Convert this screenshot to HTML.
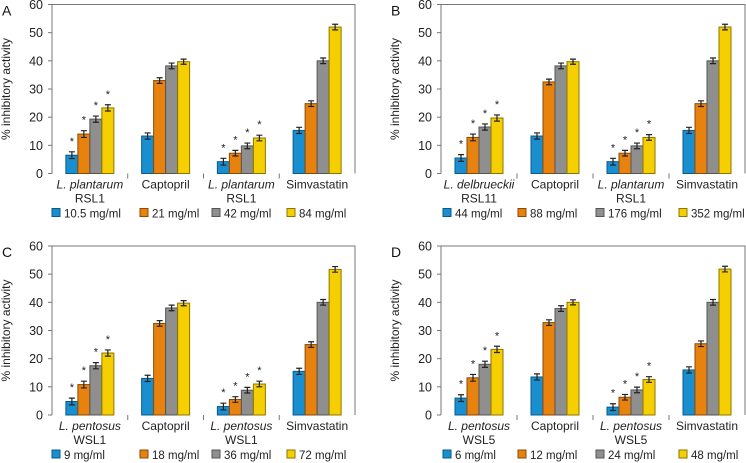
<!DOCTYPE html>
<html><head><meta charset="utf-8"><style>
html,body{margin:0;padding:0;background:#fff;}
svg{display:block;font-family:"Liberation Sans",sans-serif;}
</style></head><body>
<svg id="c" width="746" height="463"></svg>
<script>
const categoriesA = [["L. plantarum","RSL1",true],["Captopril","",false],["L. plantarum","RSL1",true],["Simvastatin","",false]];
const categoriesB = [["L. delbrueckii","RSL11",true],["Captopril","",false],["L. plantarum","RSL1",true],["Simvastatin","",false]];
const categoriesC = [["L. pentosus","WSL1",true],["Captopril","",false],["L. pentosus","WSL1",true],["Simvastatin","",false]];
const categoriesD = [["L. pentosus","WSL5",true],["Captopril","",false],["L. pentosus","WSL5",true],["Simvastatin","",false]];
const legendA = ["10.5 mg/ml","21 mg/ml","42 mg/ml","84 mg/ml"];
const legendB = ["44 mg/ml","88 mg/ml","176 mg/ml","352 mg/ml"];
const legendC = ["9 mg/ml","18 mg/ml","36 mg/ml","72 mg/ml"];
const legendD = ["6 mg/ml","12 mg/ml","24 mg/ml","48 mg/ml"];
const valuesA = [[6.5,14,19.3,23.3],[13.3,33,38.2,39.7],[4.2,7.2,9.8,12.6],[15.3,24.8,40,52]];
const valuesB = [[5.5,12.8,16.5,19.7],[13.3,32.5,38.2,39.7],[4.2,7.2,9.8,12.8],[15.3,24.8,40,52]];
const valuesC = [[4.8,10.8,17.5,22],[13,32.5,38,39.7],[3,5.5,8.8,11],[15.5,25,40,51.7]];
const valuesD = [[6,13.2,18,23.3],[13.5,32.8,37.8,40],[2.8,6.3,8.9,12.6],[16,25.3,40,51.8]];
const errA = [[1.2,1.2,1.1,1.1],[1.1,1.0,1.0,0.9],[1.2,1.0,1.0,1.0],[1.1,1.0,1.0,1.0]];
const yTicks = [0,10,20,30,40,50,60];

const colors=["#1a8fd0","#e8820e","#8f8f8f","#f5cf00"];
const strokes=["#0b5a88","#8a4a05","#555","#8c7500"];
const NS="http://www.w3.org/2000/svg";
const svg=document.getElementById('c');
function mk(t,a,p){const e=document.createElementNS(NS,t);for(const k in a)e.setAttribute(k,a[k]);(p||svg).appendChild(e);return e;}

const panels=[
 {id:"a",letter:"A",L:52,R:355,T:4.5,B:173.5,cats:categoriesA,leg:legendA,vals:valuesA,lx:[52,140,212,287],lbx:10},
 {id:"b",letter:"B",L:441,R:745,T:4.5,B:173.5,cats:categoriesB,leg:legendB,vals:valuesB,lx:[443,518,596,679],lbx:399},
 {id:"c",letter:"C",L:52,R:355,T:246,B:415,cats:categoriesC,leg:legendC,vals:valuesC,lx:[52,140,212,287],lbx:10},
 {id:"d",letter:"D",L:441,R:745,T:246,B:415,cats:categoriesD,leg:legendD,vals:valuesD,lx:[443,518,596,679],lbx:399}
];
panels.forEach(p=>{
 const g=mk('g',{});
 
 
 const y=v=>p.B-(v/60)*(p.B-p.T);
 const gw=(p.R-p.L)/4;
 const lt=mk('text',{x:p.L-50,y:p.T+11,'font-size':14,fill:'#111'},g);lt.textContent=p.letter;
 
 const fr=mk('path',{d:`M${p.L},${p.B}V${p.T}H${p.R}V${p.B}`,fill:'none',stroke:'#777','stroke-width':1},g);
 
 yTicks.forEach(t=>{
  mk('line',{x1:p.L-4,x2:p.L,y1:y(t),y2:y(t),stroke:'#777'},g);
  const tx=mk('text',{x:p.L-9,y:y(t)+4.5,'font-size':12.5,'text-anchor':'end',fill:'#222'},g);tx.textContent=t;
  
 });
 const yl=mk('text',{x:p.lbx,y:(p.T+p.B)/2,'font-size':12,'text-anchor':'middle',fill:'#222',transform:`rotate(-90 ${p.lbx} ${(p.T+p.B)/2})`},g);
 yl.textContent='% inhibitory activity';
 
 const bw=12;
 p.vals.forEach((grp,gi)=>{
  const cx=p.L+gw*(gi+0.5);
  if(gi>0) mk('line',{x1:p.L+gw*gi,x2:p.L+gw*gi,y1:p.B,y2:p.B+5,stroke:'#777'},g);
  grp.forEach((v,si)=>{
   const x=cx-2*bw+si*bw;
   const r=mk('rect',{x:x,y:y(v),width:bw,height:p.B-y(v),fill:colors[si],stroke:strokes[si],'stroke-width':1},g);
   
   
   const e=errA[gi][si], c=x+bw/2;
   mk('path',{d:`M${c},${y(v+e)}V${y(v-e)}M${c-3},${y(v+e)}H${c+3}M${c-3},${y(v-e)}H${c+3}`,stroke:'#222','stroke-width':1.2,fill:'none'},g);
   if(p.cats[gi][2]){
    const s=mk('text',{x:c,y:y(v+e)-7,'font-size':11,'text-anchor':'middle',fill:'#222'},g);s.textContent='*';
    
   }
  });
  const c1=mk('text',{x:cx,y:p.B+15,'font-size':12,'text-anchor':'middle',fill:'#222','font-style':p.cats[gi][2]?'italic':'normal'},g);
  c1.textContent=p.cats[gi][0];
  
  if(p.cats[gi][1]){const c2=mk('text',{x:cx,y:p.B+29,'font-size':12,'text-anchor':'middle',fill:'#222'},g);c2.textContent=p.cats[gi][1];
   }
 });
 const ly=p.B+44;
 p.leg.forEach((t,i)=>{
  const lg=mk('g',{},g);
  
  mk('rect',{x:p.lx[i],y:ly-9,width:8,height:8,fill:colors[i],stroke:strokes[i]},lg);
  const tt=mk('text',{x:p.lx[i]+12,y:ly,'font-size':11.5,fill:'#222'},lg);tt.textContent=t;
 });
});
</script>
</body></html>
